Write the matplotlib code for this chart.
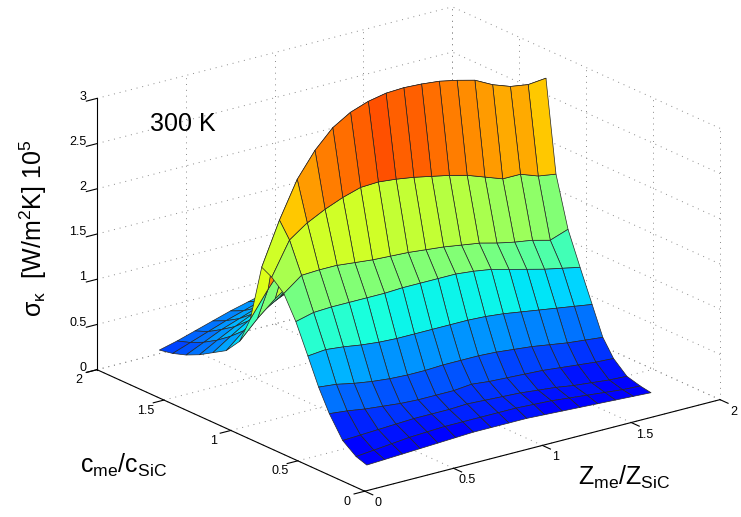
import numpy as np
import matplotlib
matplotlib.use('Agg')
import matplotlib.pyplot as plt
from matplotlib.colors import Normalize

plt.rcParams['font.family'] = ['Liberation Sans', 'DejaVu Sans']
plt.rcParams['mathtext.fontset'] = 'custom'
plt.rcParams['mathtext.rm'] = 'Liberation Sans'
plt.rcParams['mathtext.it'] = 'Liberation Sans'
plt.rcParams['mathtext.bf'] = 'Liberation Sans:bold'

# grid of the surface
z_ratio = [0.2, 0.3, 0.4, 0.5, 0.6, 0.7, 0.8, 0.9, 1.0, 1.1, 1.2, 1.3, 1.4, 1.5, 1.6, 1.7, 1.8]
c_ratio = [0.25, 0.33, 0.43, 0.53, 0.61, 0.69, 0.78, 0.87, 0.96, 1.035,
           1.12, 1.2, 1.3, 1.4, 1.5, 1.6, 1.7, 1.8]

# sigma_kappa [10^5 W/m^2K], one row per c_ratio value, one column per z_ratio value
sigma = [
    [0.02, 0.03, 0.04, 0.05, 0.06, 0.07, 0.08, 0.08, 0.08, 0.08, 0.07, 0.06, 0.05, 0.04, 0.03, 0.02, 0.01],
    [0.06, 0.08, 0.10, 0.12, 0.13, 0.14, 0.14, 0.14, 0.14, 0.14, 0.13, 0.12, 0.10, 0.08, 0.06, 0.04, 0.03],
    [0.17, 0.18, 0.19, 0.20, 0.21, 0.21, 0.21, 0.22, 0.21, 0.20, 0.19, 0.17, 0.15, 0.12, 0.10, 0.08, 0.07],
    [0.40, 0.38, 0.35, 0.33, 0.31, 0.30, 0.30, 0.30, 0.32, 0.30, 0.29, 0.28, 0.27, 0.25, 0.23, 0.21, 0.20],
    [0.64, 0.62, 0.58, 0.55, 0.53, 0.52, 0.52, 0.53, 0.53, 0.53, 0.52, 0.50, 0.48, 0.45, 0.42, 0.40, 0.38],
    [0.93, 0.95, 0.93, 0.90, 0.88, 0.87, 0.87, 0.87, 0.87, 0.87, 0.86, 0.84, 0.81, 0.78, 0.75, 0.72, 0.69],
    [1.25, 1.30, 1.31, 1.31, 1.31, 1.31, 1.32, 1.32, 1.32, 1.32, 1.30, 1.27, 1.22, 1.17, 1.12, 1.08, 1.04],
    [1.50, 1.65, 1.66, 1.66, 1.64, 1.62, 1.61, 1.60, 1.58, 1.56, 1.53, 1.50, 1.45, 1.41, 1.38, 1.33, 1.40],
    [1.62, 1.98, 2.12, 2.22, 2.30, 2.36, 2.37, 2.35, 2.32, 2.28, 2.24, 2.19, 2.12, 2.05, 2.05, 1.98, 1.95],
    [1.68, 2.15, 2.55, 2.82, 3.02, 3.14, 3.21, 3.25, 3.26, 3.25, 3.23, 3.19, 3.14, 3.04, 2.97, 2.94, 2.96],
    [1.05, 1.33, 1.58, 1.75, 1.87, 1.95, 1.99, 2.02, 2.02, 2.02, 2.00, 1.98, 1.95, 1.88, 1.84, 1.82, 1.84],
    [0.75, 0.95, 1.12, 1.26, 1.38, 1.48, 1.56, 1.66, 1.66, 1.66, 1.65, 1.63, 1.60, 1.55, 1.51, 1.50, 1.51],
    [0.58, 0.75, 0.90, 1.02, 1.12, 1.21, 1.29, 1.38, 1.39, 1.38, 1.37, 1.35, 1.33, 1.29, 1.26, 1.25, 1.25],
    [0.49, 0.62, 0.74, 0.84, 0.93, 1.01, 1.08, 1.15, 1.16, 1.15, 1.14, 1.12, 1.10, 1.07, 1.04, 1.03, 1.03],
    [0.40, 0.51, 0.61, 0.70, 0.78, 0.85, 0.90, 0.96, 0.96, 0.96, 0.95, 0.94, 0.92, 0.89, 0.87, 0.86, 0.86],
    [0.33, 0.42, 0.51, 0.58, 0.65, 0.71, 0.76, 0.82, 0.82, 0.82, 0.81, 0.80, 0.79, 0.76, 0.74, 0.73, 0.73],
    [0.28, 0.35, 0.42, 0.49, 0.55, 0.61, 0.65, 0.70, 0.71, 0.71, 0.70, 0.69, 0.68, 0.66, 0.64, 0.63, 0.63],
    [0.25, 0.30, 0.36, 0.42, 0.48, 0.53, 0.58, 0.62, 0.63, 0.63, 0.62, 0.61, 0.60, 0.58, 0.56, 0.55, 0.55],
]

x_ticks = [0, 0.5, 1, 1.5, 2]
y_ticks = [0, 0.5, 1, 1.5, 2]
z_ticks = [0, 0.5, 1, 1.5, 2, 2.5, 3]
x_ticklabels = ['0', '0.5', '1', '1.5', '2']
y_ticklabels = ['0', '0.5', '1', '1.5', '2']
z_ticklabels = ['0', '0.5', '1', '1.5', '2', '2.5', '3']

X, Y = np.meshgrid(z_ratio, c_ratio)
S = np.array(sigma)

fig = plt.figure(figsize=(7.41, 5.17), dpi=100)
ax = fig.add_axes([0.0856, -0.1491, 0.9069, 1.2998], projection='3d', computed_zorder=False)
ax.set_proj_type('ortho')
ax.set_xlim(0, 2)
ax.set_ylim(0, 2)
ax.set_zlim(0, 3)
ax.set_box_aspect((1, 1, 0.649))
ax.view_init(elev=20, azim=-127)
# axes, ticks and grid are drawn by hand below, matlab style
ax.set_xticks([])
ax.set_yticks([])
ax.set_zticks([])
ax.set_axis_off()

# dotted grid on the three back planes
grid_kw = dict(color='#8a8a8a', lw=0.7, linestyle=(0, (1, 5)), zorder=1)
for xv in x_ticks:
    ax.plot([xv, xv], [0, 2], [0, 0], **grid_kw)
    ax.plot([xv, xv], [2, 2], [0, 3], **grid_kw)
for yv in y_ticks:
    ax.plot([0, 2], [yv, yv], [0, 0], **grid_kw)
    ax.plot([2, 2], [yv, yv], [0, 3], **grid_kw)
for zv in z_ticks:
    ax.plot([0, 2], [2, 2], [zv, zv], **grid_kw)
    ax.plot([2, 2], [0, 2], [zv, zv], **grid_kw)

# surface, flat faces coloured with jet (colour limits as in the original)
cmap = plt.get_cmap('jet', 64)
norm = Normalize(vmin=-0.4, vmax=3.0, clip=True)
face_cols = cmap(norm(S))
surf = ax.plot_surface(X, Y, S, facecolors=face_cols, rstride=1, cstride=1,
                       edgecolor='#262626', linewidth=0.5, shade=False, antialiased=True)
surf.set_zorder(2)

# axis lines and ticks
ax_kw = dict(color='k', lw=0.8, zorder=3)
ax.plot([0, 2], [0, 0], [0, 0], **ax_kw)
ax.plot([0, 0], [0, 2], [0, 0], **ax_kw)
ax.plot([0, 0], [2, 2], [0, 3], **ax_kw)
tick_len = 0.06
for xv, lab in zip(x_ticks, x_ticklabels):
    ax.plot([xv, xv], [0, -tick_len], [0, 0], **ax_kw)
    ax.text(xv, -0.1, 0, lab, ha='center', va='top', fontsize=9, zorder=4)
for yv, lab in zip(y_ticks, y_ticklabels):
    ax.plot([0, -tick_len], [yv, yv], [0, 0], **ax_kw)
    ax.text(-0.1, yv, 0, lab, ha='center', va='top', fontsize=9, zorder=4)
for zv, lab in zip(z_ticks, z_ticklabels):
    ax.plot([0, -tick_len], [2, 2], [zv, zv], **ax_kw)
    ax.text(-0.06, 2, zv + 0.05, lab, ha='right', va='center', fontsize=9, zorder=4)

fig.text(150 / 741, 1 - 131 / 517, '300 K', fontsize=18, va='baseline')
fig.text(33 / 741, 1 - 228 / 517, r'$\sigma_{\kappa}$  [W/m$^2$K] 10$^5$',
         fontsize=18, rotation=90, ha='center', va='center')
fig.text(80 / 741, 1 - 473 / 517, r'c$_{me}$/c$_{SiC}$', fontsize=18, va='baseline')
fig.text(578 / 741, 1 - 485 / 517, r'Z$_{me}$/Z$_{SiC}$', fontsize=18, va='baseline')

fig.savefig('out.png', dpi=100)
